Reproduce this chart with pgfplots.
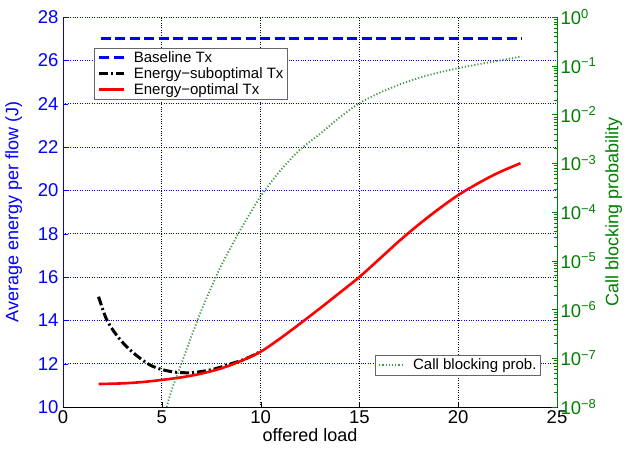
\documentclass[border=0pt]{standalone}
\usepackage{fontspec}
\setmainfont{Liberation Sans}
\usepackage{pgfplots}
\pgfplotsset{compat=1.18}
\definecolor{mgreen}{rgb}{0,0.5,0}
\definecolor{dgreen}{rgb}{0.25,0.6,0.25}

\pgfplotstableread{
x y
1.9 27
23.2 27
}\baseline

\pgfplotstableread{
x y
1.8 15.09
2.2 14.05
2.7 13.33
3.2 12.8
3.8 12.32
4.4 11.94
5.0 11.73
5.75 11.6
6.6 11.59
7.6 11.74
8.45 11.98
9.0 12.14
9.5 12.33
10 12.56
}\subopt

\pgfplotstableread{
x y
1.8 11.06
3 11.09
4 11.15
5 11.25
6 11.37
7 11.54
8 11.78
9 12.12
10 12.55
11 13.17
12 13.85
13 14.55
14 15.27
15 16.0
16 16.82
17 17.65
18 18.42
19 19.13
20 19.78
21 20.32
22 20.8
23.15 21.25
}\optim

\pgfplotstableread{
x y
5.25 1e-8
5.5 2.24e-8
6 7.94e-8
6.5 2.82e-7
7 9.55e-7
7.5 2.82e-6
8 7.94e-6
8.5 1.91e-5
9 4.47e-5
10 2.09e-4
11 7.08e-4
12 1.91e-3
13 3.98e-3
14 8.71e-3
15 1.70e-2
16 2.75e-2
17 4.07e-2
18 5.62e-2
19 7.24e-2
20 8.91e-2
21 0.107
22 0.126
23.2 0.155
}\block

\begin{document}
\begin{tikzpicture}
\begin{axis}[
  scale only axis, width=494pt, height=390pt,
  xmin=0, xmax=25, ymin=10, ymax=28,
  xtick={0,5,...,25}, ytick={10,12,...,28},
  axis x line*=bottom, axis y line*=left,
  x axis line style={-, black, line width=0.8pt},
  y axis line style={-, blue, line width=0.8pt},
  tick align=inside, major tick length=5pt,
  xtick style={black}, ytick style={blue},
  xmajorgrids, ymajorgrids,
  x grid style={black, dotted, line width=0.7pt},
  y grid style={blue, dotted, line width=0.7pt},
  /pgf/number format/assume math mode=true,
  ticklabel style={font=\fontsize{18.5}{22}\selectfont},
  yticklabel style={blue, xshift=-1pt},
  xlabel={offered load},
  ylabel={Average energy per flow (J)},
  label style={font=\fontsize{18}{21}\selectfont},
  ylabel style={blue},
  ylabel shift=9pt,
  xlabel style={yshift=2pt},
  legend style={at={(0.063,0.921)}, anchor=north west, draw=black!60,
    font=\fontsize{15}{18}\selectfont, inner sep=1.5pt, row sep=-0.5pt},
  legend cell align=left,
  legend image code/.code={\draw[#1] (2pt,0pt) -- (27pt,0pt); \path (0pt,0pt) (33pt,0pt);},
  after end axis/.code={\path (rel axis cs:0,1) ++(-63pt,17pt); \path (rel axis cs:1,0) ++(71pt,-52pt);},
]
\addplot[blue, line width=3pt, dash pattern=on 10pt off 4.5pt] table {\baseline};
\addlegendentry{Baseline Tx}
\addplot[black, line width=3pt, dash pattern=on 9pt off 3pt on 2pt off 3pt, smooth] table {\subopt};
\addlegendentry{Energy−suboptimal Tx}
\addplot[red, line width=2.6pt, smooth] table {\optim};
\addlegendentry{Energy−optimal Tx}
\end{axis}
\begin{axis}[
  scale only axis, width=494pt, height=390pt,
  xmin=0, xmax=25, ymode=log, ymin=1e-8, ymax=1,
  axis x line=none, axis y line*=right,
  y axis line style={-, mgreen, line width=0.6pt},
  tick align=inside, major tick length=5pt, minor tick length=3pt,
  ytick={1e-8,1e-7,1e-6,1e-5,1e-4,1e-3,1e-2,1e-1,1},
  yticklabels={10\textsuperscript{−8},10\textsuperscript{−7},10\textsuperscript{−6},10\textsuperscript{−5},10\textsuperscript{−4},10\textsuperscript{−3},10\textsuperscript{−2},10\textsuperscript{−1},10\textsuperscript{0}},
  ytick style={mgreen},
  yticklabel style={mgreen, font=\fontsize{18.5}{22}\selectfont},
  ylabel={Call blocking probability},
  ylabel style={mgreen, font=\fontsize{18}{21}\selectfont},
  ylabel shift=2pt,
  legend style={at={(0.966,0.082)}, anchor=south east, draw=black!60,
    font=\fontsize{15}{18}\selectfont, inner sep=1.5pt},
  legend image code/.code={\draw[#1] (2pt,0pt) -- (27pt,0pt); \path (0pt,0pt) (33pt,0pt);},
]
\addplot[dgreen, line width=1.8pt, dash pattern=on 1.2pt off 2pt, smooth] table {\block};
\addlegendentry{Call blocking prob.}
\end{axis}
\end{tikzpicture}
\end{document}
